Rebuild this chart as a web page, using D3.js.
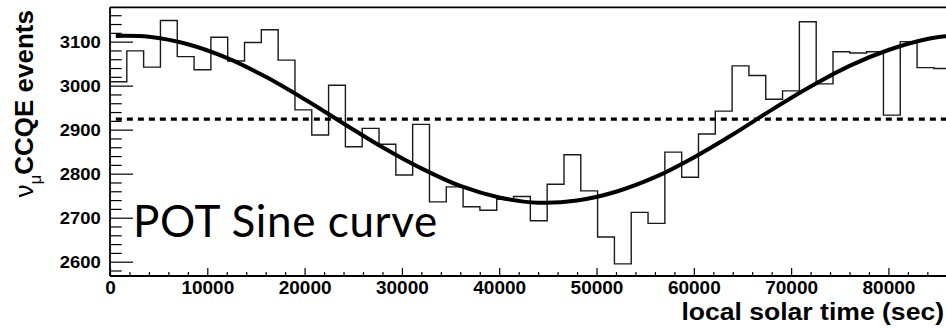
<!DOCTYPE html>
<html>
<head>
<meta charset="utf-8">
<script src="https://cdn.jsdelivr.net/npm/d3@7"></script>
<style>
  html, body { margin: 0; padding: 0; background: #fff; overflow: hidden; }
  svg { display: block; }
</style>
</head>
<body>
<svg id="chart" width="946" height="328"></svg>
<script>
// ---- data ----
const binWidth = 1728; // seconds (50 bins over 86400 s)
const binStarts = d3.range(0, 50).map(i => i * binWidth);
const counts = [
  3009, 3079, 3042, 3148, 3066, 3036, 3110, 3056, 3098, 3127,
  3058, 2945, 2888, 3001, 2861, 2903, 2867, 2797, 2912, 2736,
  2770, 2725, 2717, 2742, 2748, 2693, 2776, 2843, 2761, 2656,
  2595, 2712, 2687, 2849, 2792, 2890, 2942, 3045, 3023, 2969,
  2988, 3145, 3004, 3077, 3074, 3077, 2933, 3100, 3041, 3039
];
const curveTimes = [600, 4000, 8000, 12000, 16000, 20000, 24000, 28000, 32000, 36000, 40000,
  44000, 48000, 52000, 56000, 60000, 64000, 68000, 72000, 76000, 80000, 84000, 86400];
const curveValues = [3113, 3111, 3094, 3063, 3020, 2969, 2914, 2860, 2812, 2772, 2746,
  2734, 2739, 2759, 2792, 2837, 2889, 2945, 2998, 3045, 3081, 3106, 3113];
const meanLevel = 2924;
const meanRange = [600, 86400];
const xMajorTicks = [0, 10000, 20000, 30000, 40000, 50000, 60000, 70000, 80000];
const xMinorTicks = d3.range(0, 86401, 2000);
const yMajorTicks = [2600, 2700, 2800, 2900, 3000, 3100];
const yMinorTicks = d3.range(2580, 3178, 20);
const xTitle = "local solar time (sec)";
const curveLabel = "POT Sine curve";

// ---- layout ----
const pL = 110, pR = 950.7, pT = 7.3, pB = 276;
const svg = d3.select("#chart");
const x = d3.scaleLinear().domain([0, 86400]).range([pL, pR]);
const y = d3.scaleLinear().domain([2567.5, 3178]).range([pB, pT]);

const labelFont = "'Liberation Sans', Arial, Helvetica, sans-serif";

// histogram outline
const p = d3.path();
p.moveTo(x(binStarts[0]), y(counts[0]));
counts.forEach((c, i) => {
  const x0 = x(binStarts[i]), x1 = x(binStarts[i] + binWidth);
  if (i > 0) p.lineTo(x0, y(c));
  p.lineTo(x1, y(c));
});
svg.append("path").attr("d", p.toString())
  .attr("fill", "none").attr("stroke", "#1a1a1a").attr("stroke-width", 1.4);

// mean dashed line
svg.append("line")
  .attr("x1", x(meanRange[0])).attr("x2", x(meanRange[1]))
  .attr("y1", y(meanLevel)).attr("y2", y(meanLevel))
  .attr("stroke", "#000").attr("stroke-width", 3.3).attr("stroke-dasharray", "6,5");

// sine curve
const line = d3.line().x((d, i) => x(curveTimes[i])).y(d => y(d)).curve(d3.curveCatmullRom);
svg.append("path").attr("d", line(curveValues))
  .attr("fill", "none").attr("stroke", "#000").attr("stroke-width", 4);

// frame
svg.append("line").attr("x1", pL).attr("x2", pR).attr("y1", pT).attr("y2", pT)
  .attr("stroke", "#000").attr("stroke-width", 1.8);
svg.append("line").attr("x1", pL).attr("x2", pR).attr("y1", pB).attr("y2", pB)
  .attr("stroke", "#000").attr("stroke-width", 1.8);
svg.append("line").attr("x1", pL).attr("x2", pL).attr("y1", pT).attr("y2", pB)
  .attr("stroke", "#000").attr("stroke-width", 1.8);

// x axis ticks (inward) via d3 axis
const xMinorAxis = d3.axisTop(x).tickValues(xMinorTicks.filter(t => t % 10000 !== 0)).tickSize(4).tickFormat("");
const xMajorAxis = d3.axisTop(x).tickValues(xMajorTicks).tickSize(8).tickFormat("");
[xMinorAxis, xMajorAxis].forEach(ax => {
  const g = svg.append("g").attr("transform", `translate(0,${pB})`).call(ax);
  g.select(".domain").remove();
  g.selectAll("line").attr("stroke", "#000").attr("stroke-width", 1.2);
});
const xLab = d3.axisBottom(x).tickValues(xMajorTicks).tickSize(0).tickPadding(0).tickFormat(d3.format("d"));
const gxl = svg.append("g").attr("transform", `translate(0,${pB})`).call(xLab);
gxl.select(".domain").remove();
gxl.selectAll("text").attr("dy", null).attr("y", 18)
  .attr("font-family", labelFont).attr("font-weight", "bold").attr("font-size", 19).attr("fill", "#000");

// y axis ticks (inward)
const yMinorAxis = d3.axisRight(y).tickValues(yMinorTicks.filter(t => t % 100 !== 0)).tickSize(11.7).tickFormat("");
const yMajorAxis = d3.axisRight(y).tickValues(yMajorTicks).tickSize(23).tickFormat("");
[yMinorAxis, yMajorAxis].forEach(ax => {
  const g = svg.append("g").attr("transform", `translate(${pL},0)`).call(ax);
  g.select(".domain").remove();
  g.selectAll("line").attr("stroke", "#000").attr("stroke-width", 1.2);
});
const yLab = svg.append("g");
yMajorTicks.forEach(t => {
  yLab.append("text")
    .attr("transform", `translate(100.7,${y(t)}) scale(1.13,1)`)
    .attr("text-anchor", "end").attr("dy", "0.36em")
    .attr("font-family", labelFont).attr("font-weight", "bold").attr("font-size", 16.3)
    .attr("fill", "#000").text(t);
});

// axis titles
svg.append("text").attr("transform", "translate(944,319.5) scale(1.13,1)").attr("text-anchor", "end")
  .attr("font-family", labelFont).attr("font-weight", "bold").attr("font-size", 23.5)
  .attr("fill", "#000").text(xTitle);

const yt = svg.append("text")
  .attr("transform", "translate(33,10) rotate(-90)")
  .attr("text-anchor", "end")
  .attr("font-family", labelFont).attr("font-size", 26).attr("fill", "#000");
yt.append("tspan").attr("font-weight", "normal").text("ν");
yt.append("tspan").attr("font-weight", "normal").attr("font-size", 17).attr("dy", 8).text("μ");
yt.append("tspan").attr("font-weight", "bold").attr("dy", -8).text("CCQE events");

// curve label
svg.append("text").attr("x", 133).attr("y", 236.7)
  .attr("font-family", "Lato, 'Open Sans', sans-serif").attr("font-size", 44)
  .attr("letter-spacing", 0.6)
  .attr("fill", "#000").text(curveLabel);
</script>
</body>
</html>
